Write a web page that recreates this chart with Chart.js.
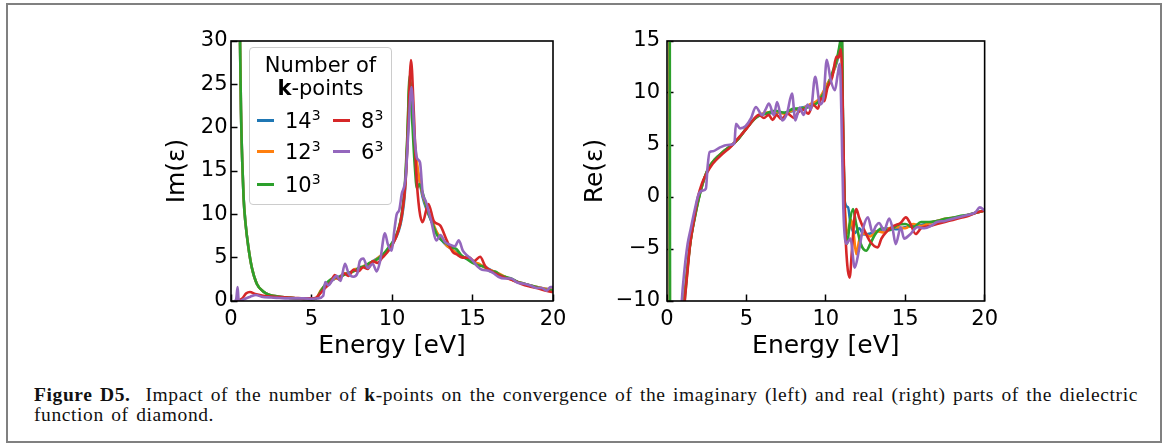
<!DOCTYPE html>
<html>
<head>
<meta charset="utf-8">
<title>Figure D5</title>
<script src="https://cdn.jsdelivr.net/npm/chart.js@4/dist/chart.umd.min.js"></script>
<style>
  html, body { margin: 0; padding: 0; background: #fff; }
  #page { position: relative; width: 1174px; height: 448px; overflow: hidden; }
  .frame { position: absolute; left: 6px; top: 3px; width: 1156px; height: 440px;
           box-sizing: border-box; border: 2px solid #808080; }
  canvas { position: absolute; top: 0; }
  #imChart { left: 0; }
  #reChart { left: 560px; }
  #legend { position: absolute; left: 249px; top: 47px; width: 143px; height: 158px;
            box-sizing: border-box; border: 1px solid #cccccc; border-radius: 4px;
            background: rgba(255,255,255,0.8); font-family: 'DejaVu Sans', sans-serif;
            font-size: 21px; color: #000; }
  #legend .ttl { position: absolute; left: 0; width: 100%; text-align: center; line-height: 23px; }
  #legend .item { position: absolute; height: 24px; line-height: 24px; white-space: nowrap; }
  #legend .swatch { position: absolute; top: 10px; width: 17px; height: 3px; }
  #legend .txt { position: absolute; }
  #legend sup { font-size: 14px; vertical-align: 8px; line-height: 0; }
  #caption { position: absolute; left: 34px; top: 385px; margin: 0; white-space: nowrap;
             font-family: 'Liberation Serif', serif; font-size: 19.5px; line-height: 20px;
             letter-spacing: 0.6px; word-spacing: 2px; color: #111; }
</style>
</head>
<body>
<div id="page">
  <div class="frame"></div>
  <canvas id="imChart" width="587" height="380"></canvas>
  <canvas id="reChart" width="450" height="380"></canvas>
  <div id="legend"></div>
  <p id="caption"><b>Figure D5.</b>&nbsp; Impact of the number of <b>k</b>-points on the convergence of the imaginary (left) and real (right) parts of the dielectric<br>function of diamond.</p>
</div>
<script>
// ============================================================
// Data: [energy (eV), value]
// ============================================================
const kGrid = [14, 12, 10, 8, 6];
const energyTicks = [0, 5, 10, 15, 20];
const imTicks = [0, 5, 10, 15, 20, 25, 30];
const reTicks = [-10, -5, 0, 5, 10, 15];

const im14 = [[0.35,90],[0.45,45],[0.56,30],[0.62,22],[0.7,16],[0.78,12],[0.9,9],[1.08,6.2],[1.3,3.8],[1.6,2.0],[2.0,1.1],[2.4,0.7],[3.0,0.5],[3.5,0.4],[4.0,0.3],[4.5,0.25],[5.0,0.2],[5.3,0.3],[5.6,1.2],[5.9,1.9],[6.2,2.3],[6.5,2.6],[6.8,2.9],[7.1,3.1],[7.4,3.3],[7.7,3.6],[8.0,3.8],[8.3,4.0],[8.6,4.3],[8.9,4.7],[9.2,5.0],[9.5,5.3],[9.8,6.0],[10.1,6.8],[10.4,8.0],[10.6,9.5],[10.8,12.5],[10.95,18],[11.1,25],[11.25,22],[11.4,18],[11.55,15.5],[11.7,14],[11.9,12],[12.2,10.3],[12.5,9],[12.8,7.8],[13.1,7.0],[13.4,6.4],[13.7,6.0],[14.0,5.6],[14.3,5.2],[14.6,4.9],[15.0,4.6],[15.4,4.2],[15.8,3.9],[16.2,3.5],[16.6,3.1],[17.0,2.8],[17.4,2.5],[17.8,2.2],[18.2,2.0],[18.6,1.8],[19.0,1.6],[19.5,1.4],[20,1.3]];
const im12 = [[0.35,90],[0.45,45],[0.56,30],[0.62,22],[0.7,16],[0.78,12],[0.9,9],[1.08,6.2],[1.3,3.8],[1.6,2.0],[2.0,1.1],[2.4,0.7],[3.0,0.5],[3.5,0.4],[4.0,0.3],[4.5,0.25],[5.0,0.2],[5.3,0.35],[5.6,1.3],[5.9,1.8],[6.2,2.4],[6.5,2.6],[6.8,2.8],[7.1,3.2],[7.4,3.2],[7.7,3.7],[8.0,3.7],[8.3,4.1],[8.6,4.3],[8.9,4.6],[9.2,5.1],[9.5,5.4],[9.8,6.1],[10.1,6.9],[10.4,8.2],[10.6,9.8],[10.8,13],[10.95,18.5],[11.1,25.5],[11.25,22.5],[11.4,18.5],[11.55,16],[11.7,14],[11.9,12.3],[12.2,10.5],[12.5,9.2],[12.8,7.9],[13.1,7.2],[13.4,6.4],[13.7,6.0],[14.0,5.5],[14.3,5.1],[14.6,5.0],[15.0,4.5],[15.4,4.3],[15.8,3.8],[16.2,3.5],[16.6,3.2],[17.0,2.8],[17.4,2.5],[17.8,2.2],[18.2,2.0],[18.6,1.8],[19.0,1.6],[19.5,1.4],[20,1.3]];
const im10 = [[0.35,90],[0.45,45],[0.56,30],[0.62,22],[0.7,16],[0.78,12],[0.9,9],[1.08,6.2],[1.3,3.8],[1.6,2.0],[2.0,1.1],[2.4,0.7],[3.0,0.5],[3.5,0.4],[4.0,0.3],[4.5,0.25],[5.0,0.2],[5.3,0.3],[5.6,1.2],[5.9,2.0],[6.2,2.5],[6.5,2.7],[6.8,2.8],[7.1,3.1],[7.4,3.3],[7.7,3.5],[8.0,3.9],[8.3,4.0],[8.6,4.4],[8.9,4.6],[9.2,5.0],[9.5,5.5],[9.8,6.2],[10.1,7.0],[10.4,8.3],[10.6,10],[10.8,13.5],[10.95,19],[11.1,26],[11.25,21],[11.4,16],[11.55,13],[11.7,13.5],[11.9,12.5],[12.2,10.5],[12.5,9.0],[12.8,7.6],[13.1,7.0],[13.4,6.6],[13.7,6.2],[14.0,6.0],[14.3,5.3],[14.6,4.9],[15.0,4.4],[15.4,4.1],[15.8,3.9],[16.1,3.4],[16.4,3.4],[16.7,3.0],[17.0,2.8],[17.4,2.6],[17.8,2.2],[18.2,2.0],[18.6,1.8],[19.0,1.6],[19.5,1.3],[20,1.2]];
const im8 = [[0.4,0],[0.7,0.3],[0.95,0.9],[1.18,1.04],[1.5,0.8],[2.0,0.6],[2.5,0.5],[3.0,0.45],[3.5,0.4],[4.0,0.35],[4.5,0.3],[5.0,0.3],[5.3,0.4],[5.6,1.0],[5.9,1.6],[6.2,2.2],[6.45,3.0],[6.7,2.5],[7.0,3.2],[7.3,2.9],[7.6,3.6],[7.9,3.4],[8.2,3.9],[8.5,3.7],[8.8,4.6],[9.1,4.4],[9.4,5.0],[9.7,5.6],[10.0,6.4],[10.3,7.6],[10.6,9.8],[10.85,14],[11.0,20],[11.18,27.8],[11.35,22],[11.5,15],[11.7,10.5],[11.9,9.1],[12.26,11.2],[12.6,9.2],[13.0,8.7],[13.4,7.0],[13.8,5.6],[14.0,5.4],[14.4,5.0],[14.8,5.0],[15.1,4.6],[15.47,5.1],[15.8,4.0],[16.2,3.4],[16.6,3.0],[17.0,2.7],[17.5,2.4],[18.0,2.0],[18.5,1.7],[19.0,1.5],[19.5,1.2],[20,1.0]];
const im6 = [[0.25,0],[0.33,0.3],[0.41,1.6],[0.47,0.2],[0.55,0],[0.8,0.2],[1.2,0.5],[1.55,0.7],[1.9,0.5],[2.5,0.4],[3.0,0.35],[3.5,0.3],[4.0,0.3],[4.5,0.3],[5.0,0.25],[5.4,0.3],[5.73,0.6],[5.85,2.2],[6.05,1.8],[6.3,2.4],[6.56,2.9],[6.8,2.3],[7.08,4.3],[7.3,3.2],[7.6,2.8],[7.85,3.2],[8.0,4.6],[8.22,4.9],[8.5,3.8],[8.8,4.3],[9.05,3.4],[9.25,4.5],[9.56,7.8],[9.75,6.5],[9.98,5.8],[10.15,8.2],[10.29,10.0],[10.45,10.5],[10.6,12.3],[10.85,14.3],[11.0,19],[11.21,24.7],[11.4,19],[11.55,16.5],[11.74,16],[11.9,12.5],[12.1,11.5],[12.4,9.5],[12.77,7.0],[13.0,7.6],[13.3,6.8],[13.6,6.5],[13.9,6.3],[14.15,7.0],[14.4,5.8],[14.7,5.2],[15.0,4.7],[15.3,4.0],[15.6,3.6],[16.0,3.5],[16.3,3.2],[16.6,2.8],[17.0,2.6],[17.4,2.6],[17.8,2.1],[18.2,2.0],[18.6,1.8],[19.0,1.5],[19.3,1.5],[19.6,1.2],[19.85,1.6],[20,1.6]];

const re14 = [[0.12,40],[0.19,-40],[0.8,-30],[1.05,-11],[1.2,-8],[1.35,-5.8],[1.5,-4.0],[1.75,-1.9],[2.0,-0.1],[2.25,1.3],[2.5,2.4],[2.75,3.1],[3.0,3.6],[3.5,4.3],[4.0,4.9],[4.5,5.6],[5.0,6.6],[5.5,7.5],[5.8,7.9],[6.2,8.0],[6.8,8.1],[7.4,8.1],[8.0,8.3],[8.5,8.6],[9.0,8.8],[9.5,9.2],[9.8,9.9],[10.1,10.8],[10.4,11.8],[10.7,13.0],[10.9,14.5],[11.0,15.5],[11.08,7],[11.2,-0.5],[11.4,-1.0],[11.55,-2.5],[11.8,-3.5],[12.1,-3.0],[12.4,-3.6],[12.8,-3.5],[13.2,-3.3],[13.6,-3.1],[14.0,-3.0],[14.5,-3.1],[15.0,-2.9],[15.5,-2.8],[16.0,-2.7],[16.5,-2.5],[17.0,-2.3],[17.5,-2.2],[18.0,-2.0],[18.5,-1.9],[19.0,-1.7],[19.5,-1.5],[20,-1.3]];
const re12 = [[0.14,40],[0.21,-40],[0.8,-30],[1.06,-11],[1.2,-8.2],[1.35,-5.9],[1.5,-4.0],[1.75,-1.9],[2.0,-0.1],[2.25,1.3],[2.5,2.4],[2.75,3.1],[3.0,3.6],[3.5,4.3],[4.0,4.9],[4.5,5.6],[5.0,6.6],[5.5,7.5],[5.8,7.9],[6.2,8.1],[6.8,8.2],[7.4,8.0],[8.0,8.4],[8.5,8.5],[9.0,8.9],[9.5,9.3],[9.8,10.0],[10.1,10.9],[10.4,11.7],[10.7,13.2],[10.9,14.6],[11.0,15.5],[11.08,6],[11.2,-1],[11.4,-3.5],[11.6,-2.2],[11.75,-3.5],[11.92,-5.5],[12.1,-4.2],[12.4,-3.5],[12.8,-3.8],[13.2,-3.3],[13.6,-3.4],[14.0,-3.0],[14.5,-2.9],[15.0,-3.0],[15.5,-2.6],[16.0,-2.8],[16.5,-2.5],[17.0,-2.3],[17.5,-2.1],[18.0,-2.0],[18.5,-1.9],[19.0,-1.7],[19.5,-1.5],[20,-1.3]];
const re10 = [[0.16,40],[0.22,-40],[0.8,-30],[1.08,-11],[1.2,-8.5],[1.35,-6.0],[1.5,-4.1],[1.75,-2.0],[2.0,-0.2],[2.25,1.3],[2.5,2.4],[2.75,3.1],[3.0,3.6],[3.5,4.3],[4.0,4.9],[4.5,5.6],[5.0,6.6],[5.5,7.5],[5.8,7.8],[6.2,8.0],[6.8,8.3],[7.4,8.1],[8.0,8.5],[8.5,8.5],[9.0,8.7],[9.5,9.1],[9.8,9.8],[10.1,10.6],[10.4,11.9],[10.7,13.3],[10.9,14.9],[11.0,16],[11.1,5],[11.2,-2],[11.35,-4.5],[11.5,-2.5],[11.71,-1.15],[11.9,-2.5],[12.2,-4.5],[12.54,-5.17],[12.8,-4.5],[13.1,-3.6],[13.5,-3.0],[14.0,-3.2],[14.5,-2.7],[15.0,-2.6],[15.5,-2.9],[16.0,-2.4],[16.5,-2.4],[17.0,-2.3],[17.5,-2.1],[18.0,-2.0],[18.5,-1.8],[19.0,-1.7],[19.5,-1.5],[20,-1.3]];
const re8 = [[0.95,-14],[1.12,-10],[1.3,-7],[1.43,-4.9],[1.7,-2.2],[1.95,0],[2.2,1.3],[2.47,2.2],[2.88,3.2],[3.5,4.16],[4.0,4.8],[4.34,5.4],[4.97,6.5],[5.59,7.7],[5.8,7.9],[6.1,7.6],[6.4,7.9],[6.65,7.4],[6.9,7.9],[7.2,7.5],[7.6,8.0],[8.0,7.6],[8.3,8.2],[8.6,8.4],[8.9,8.0],[9.2,8.9],[9.5,8.5],[9.7,9.5],[9.9,9.2],[10.1,10.5],[10.4,11.5],[10.67,13.5],[10.8,13.4],[10.95,14.2],[11.05,10],[11.2,-2],[11.35,-6.5],[11.5,-7.75],[11.65,-5],[11.8,-2],[11.92,-1.15],[12.1,-2],[12.44,-3.24],[12.8,-4.3],[13.27,-4.85],[13.5,-4],[13.79,-3.4],[14.31,-2.76],[14.7,-2.5],[15.04,-1.96],[15.3,-2.5],[15.66,-3.56],[16.0,-3.0],[16.5,-2.8],[17.0,-2.6],[17.5,-2.4],[18.0,-2.2],[18.5,-2.0],[19.0,-1.8],[19.5,-1.5],[20,-1.3]];
const re6 = [[0.8,-14],[0.93,-10],[1.1,-7],[1.3,-4.5],[1.5,-3],[1.75,-1.2],[2.0,0.3],[2.26,0.62],[2.45,0.8],[2.55,2.8],[2.68,4.32],[2.9,4.4],[3.3,4.74],[3.8,5.0],[4.24,5.12],[4.34,7.05],[4.6,6.6],[4.94,6.8],[5.3,7.6],[5.59,8.66],[6.0,7.86],[6.2,8.4],[6.42,8.99],[6.73,7.86],[6.93,9.14],[7.25,7.37],[7.55,8.0],[7.87,9.95],[8.08,7.37],[8.35,8.6],[8.6,7.9],[8.85,8.9],[9.05,8.4],[9.33,11.55],[9.64,8.9],[9.85,9.5],[10.06,13.2],[10.3,11.3],[10.57,10.27],[10.75,11.8],[10.88,12.8],[10.98,8],[11.1,-1],[11.3,-4.5],[11.55,-4],[11.82,-6.8],[12.1,-5],[12.35,-3.0],[12.65,-1.96],[12.94,-3.4],[13.15,-2.8],[13.35,-2.5],[13.67,-3.2],[13.99,-2.07],[14.2,-3.0],[14.4,-4.53],[14.72,-2.92],[14.93,-4.0],[15.3,-3.6],[15.76,-2.9],[16.2,-3.0],[16.6,-2.8],[17.0,-2.4],[17.5,-2.3],[18.0,-2.1],[18.5,-1.9],[19.0,-1.7],[19.4,-1.5],[19.7,-1.0],[20,-1.3]];

// matplotlib tab10 colours, same order as kGrid
const SERIES_COLORS = ['#1f77b4', '#ff7f0e', '#2ca02c', '#d62728', '#9467bd'];
const FONT = "'DejaVu Sans', sans-serif";

// ============================================================
// Helpers
// ============================================================
const toPoints = (pairs) => pairs.map(([x, y]) => ({ x, y }));
const minusSign = (v) => String(v).replace('-', '\u2212');

function buildDatasets(seriesList) {
  return seriesList.map((pairs, i) => ({
    label: kGrid[i] + '\u00b3',
    data: toPoints(pairs),
    borderColor: SERIES_COLORS[i],
    borderWidth: 2.6,
    pointRadius: 0,
    cubicInterpolationMode: 'monotone',
    clip: 0,
    // later k-grids sit on top, like matplotlib's plot order
    order: seriesList.length - 1 - i
  }));
}

// Draw the full box around the plot area (matplotlib spines)
const framePlugin = {
  id: 'frame',
  afterDatasetsDraw(chart) {
    const { ctx, chartArea: a } = chart;
    ctx.save();
    ctx.strokeStyle = '#000';
    ctx.lineWidth = 1.6;
    ctx.strokeRect(a.left, a.top, a.right - a.left, a.bottom - a.top);
    ctx.restore();
  }
};

function axisOptions(min, max, ticks, labelPad, title, titlePad, fitSize, horizontal) {
  return {
    type: 'linear',
    min, max,
    afterBuildTicks: (scale) => { scale.ticks = ticks.map((v) => ({ value: v })); },
    afterFit: (scale) => {
      if (horizontal) scale.height = fitSize; else scale.width = fitSize;
    },
    border: { display: false },
    grid: {
      drawOnChartArea: false,
      drawTicks: true,
      tickLength: -6.5,
      tickColor: '#000',
      tickWidth: 1.5
    },
    ticks: {
      padding: labelPad,
      color: '#000',
      autoSkip: false,
      maxRotation: 0,
      font: { family: FONT, size: 21 },
      callback: (val) => minusSign(val)
    },
    title: {
      display: true,
      text: title,
      color: '#000',
      font: { family: FONT, size: 25 },
      padding: titlePad
    }
  };
}

function makePanel(canvasId, seriesList, yMin, yMax, yTicks, yTitle, padding, yAxisWidth, yLabelPad, yTitlePad) {
  return new Chart(document.getElementById(canvasId), {
    type: 'line',
    data: { datasets: buildDatasets(seriesList) },
    options: {
      responsive: false,
      animation: false,
      events: [],
      layout: { padding },
      plugins: { legend: { display: false }, tooltip: { enabled: false } },
      scales: {
        x: axisOptions(0, 20, energyTicks, 12, 'Energy [eV]', { top: 0, bottom: 10 }, 70, true),
        y: axisOptions(yMin, yMax, yTicks, yLabelPad, yTitle, { top: yTitlePad, bottom: 0 }, yAxisWidth, false)
      }
    },
    plugins: [framePlugin]
  });
}

// ============================================================
// Left: Im(eps), right: Re(eps)
// ============================================================
makePanel('imChart', [im14, im12, im10, im8, im6], 0, 30, imTicks, 'Im(\u03b5)',
  { left: 150, top: 41, right: 34, bottom: 9 }, 81, 10, 12);

makePanel('reChart', [re14, re12, re10, re8, re6], -10, 15, reTicks, 'Re(\u03b5)',
  { left: 10, top: 41, right: 22, bottom: 9 }, 97, 13.5, 10);

// ============================================================
// Legend (two columns, filled column by column, like matplotlib ncol=2)
// ============================================================
function buildLegend() {
  const box = document.getElementById('legend');
  const title1 = document.createElement('div');
  title1.className = 'ttl';
  title1.style.top = '6px';
  title1.textContent = 'Number of';
  const title2 = document.createElement('div');
  title2.className = 'ttl';
  title2.style.top = '29px';
  title2.innerHTML = '<b>k</b>-points';
  box.append(title1, title2);

  const rowsPerCol = 3;
  const rowTop = [61, 92, 125];
  const colLeft = [7, 83];
  kGrid.forEach((k, i) => {
    const col = Math.floor(i / rowsPerCol);
    const row = i % rowsPerCol;
    const item = document.createElement('div');
    item.className = 'item';
    item.style.left = colLeft[col] + 'px';
    item.style.top = rowTop[row] + 'px';
    item.innerHTML = `<span class="swatch" style="left:0;background:${SERIES_COLORS[i]}"></span>` +
      `<span class="txt" style="left:28px">${k}<sup>3</sup></span>`;
    box.appendChild(item);
  });
}

buildLegend();
</script>
</body>
</html>
